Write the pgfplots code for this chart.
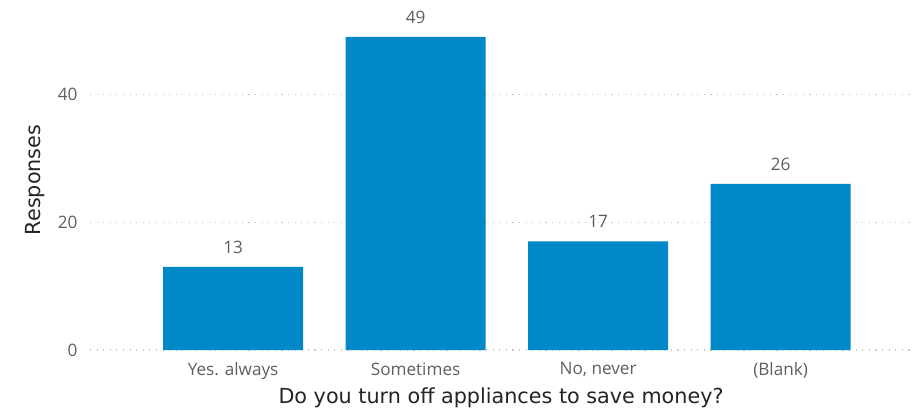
\documentclass[border=0pt]{standalone}
\usepackage{pgfplots}
\pgfplotsset{compat=1.18}
\usepackage{fontspec}
\setmainfont{Open Sans}
\newfontfamily\titlefont{DejaVu Sans}
\definecolor{barblue}{HTML}{0088C8}
\definecolor{ticktext}{HTML}{605E5C}
\definecolor{titletext}{HTML}{252423}
\definecolor{gridc}{HTML}{C8C6C4}
\begin{document}
\begin{tikzpicture}
\begin{axis}[
  name=ax,
  at={(0,0)}, anchor=south west,
  scale only axis,
  width=822bp, height=340bp,
  xmin=-0.784, xmax=3.72,
  ymin=0, ymax=53.2,
  axis line style={draw=none},
  tick style={draw=none},
  xtick={0,1,2,3},
  xticklabels={Yes. always,Sometimes,{No, never},(Blank)},
  ytick={0,20,40},
  ymajorgrids,
  grid style={gridc, line width=1.1bp, dash pattern=on 1.1bp off 5.5bp},
  /pgf/number format/assume math mode=true,
  ticklabel style={font=\fontsize{17.2}{19}\selectfont, text=ticktext},
  xticklabel style={yshift=-9bp},
  yticklabel style={xshift=-9bp},
  xlabel={Do you turn off appliances to save money?},
  ylabel={Responses},
  label style={font=\titlefont\fontsize{20.8}{23}\selectfont, text=titletext},
  xlabel style={yshift=-1bp},
  ylabel style={yshift=6bp},
  clip=false,
]
\addplot[ybar, bar width=140bp, fill=barblue, draw=none,
  nodes near coords,
  every node near coord/.append style={font=\fontsize{17.2}{19}\selectfont, text=ticktext, yshift=10bp}]
  coordinates {(0,13) (1,49) (2,17) (3,26)};
\end{axis}
\pgfresetboundingbox
\path[use as bounding box] (-90bp,-63bp) rectangle (828bp,350bp);
\end{tikzpicture}
\end{document}
